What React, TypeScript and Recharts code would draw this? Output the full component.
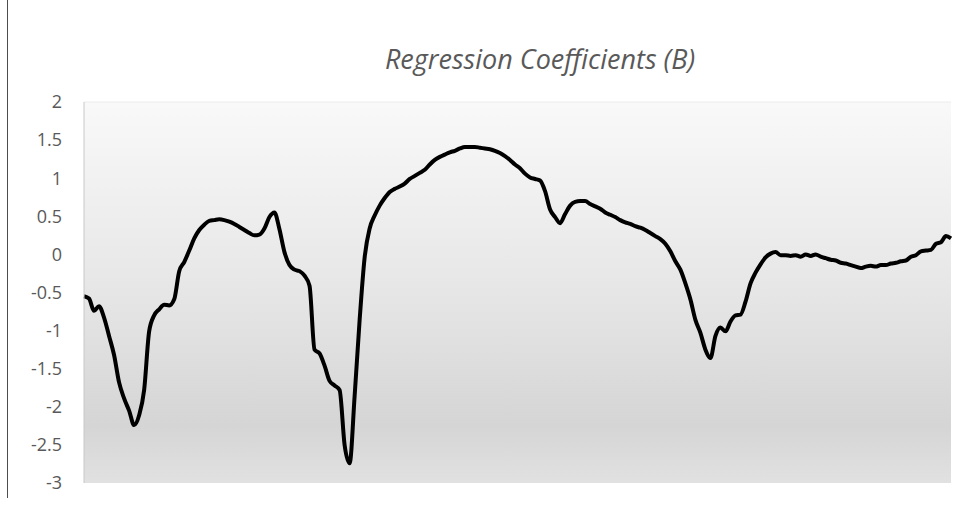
import React from "react";
import { LineChart, Line, XAxis, YAxis, CartesianGrid, ReferenceLine } from "recharts";

const yTicks = [-3, -2.5, -2, -1.5, -1, -0.5, 0, 0.5, 1, 1.5, 2];

const coefficients = [
  -0.55, -0.58, -0.74, -0.68, -0.83, -1.07, -1.32, -1.68, -1.89, -2.05,
  -2.24, -2.11, -1.78, -1.01, -0.8, -0.72, -0.66, -0.67, -0.59, -0.22,
  -0.1, 0.05, 0.21, 0.32, 0.39, 0.44, 0.45, 0.46, 0.45, 0.43,
  0.4, 0.36, 0.32, 0.28, 0.25, 0.26, 0.34, 0.49, 0.55, 0.33,
  0.03, -0.14, -0.2, -0.22, -0.28, -0.41, -1.25, -1.3, -1.46, -1.66,
  -1.72, -1.78, -2.5, -2.74, -1.86, -0.86, -0.04, 0.34, 0.51, 0.64,
  0.74, 0.82, 0.86, 0.89, 0.93, 0.99, 1.03, 1.07, 1.11, 1.18,
  1.24, 1.28, 1.31, 1.34, 1.36, 1.39, 1.41, 1.41, 1.41, 1.4,
  1.39, 1.38, 1.36, 1.33, 1.29, 1.24, 1.18, 1.13, 1.06, 1.01,
  0.99, 0.97, 0.83, 0.59, 0.49, 0.41, 0.53, 0.64, 0.69, 0.7,
  0.7, 0.66, 0.63, 0.6, 0.55, 0.52, 0.49, 0.45, 0.42, 0.4,
  0.37, 0.35, 0.32, 0.28, 0.24, 0.2, 0.14, 0.04, -0.09, -0.2,
  -0.38, -0.59, -0.86, -1.03, -1.25, -1.36, -1.07, -0.96, -1.01, -0.88,
  -0.8, -0.79, -0.62, -0.38, -0.24, -0.13, -0.04, 0.01, 0.03, -0.01,
  -0.01, -0.02, -0.01, -0.03, 0.0, -0.02, 0.0, -0.03, -0.05, -0.07,
  -0.08, -0.11, -0.12, -0.14, -0.16, -0.18, -0.16, -0.15, -0.16, -0.14,
  -0.14, -0.12, -0.11, -0.09, -0.08, -0.03, -0.01, 0.04, 0.05, 0.06,
  0.14, 0.16, 0.24, 0.21,
];

const categories = coefficients.map((_, i) => i + 1);

const data = categories.map((c, i) => ({ idx: c, b: coefficients[i] }));

export default function App() {
  return (
    <div style={{ position: "relative", width: 966, height: 503 }}>
      <div
        style={{
          position: "fixed",
          left: 7,
          top: 0,
          width: 0,
          height: 498,
          borderLeft: "1px solid #4d4d4d",
          zIndex: 10,
        }}
      />
      <LineChart
        width={966}
        height={503}
        data={data}
        margin={{ top: 94, right: 23, bottom: 28, left: 0 }}
      >
        <defs>
          <linearGradient id="plotBg" x1="0" y1="0" x2="0" y2="1">
            <stop offset="0%" stopColor="#f9f9f9" />
            <stop offset="50%" stopColor="#e6e6e6" />
            <stop offset="85%" stopColor="#d5d5d5" />
            <stop offset="100%" stopColor="#e1e1e1" />
          </linearGradient>
        </defs>
        <CartesianGrid
          horizontal={false}
          vertical={false}
          fill="url(#plotBg)"
          fillOpacity={1}
        />
        <XAxis dataKey="idx" hide />
        <YAxis
          type="number"
          domain={[-3, 2]}
          ticks={yTicks}
          interval={0}
          width={76}
          tickSize={0}
          tickMargin={22}
          axisLine={{ stroke: "#c8c8c8" }}
          tickLine={false}
          tick={{ fill: "#595959", fontSize: 18, fontFamily: "'Open Sans', sans-serif" }}
        />
        <ReferenceLine y={2} stroke="#ececec" />
        <Line
          type="monotone"
          dataKey="b"
          stroke="#000000"
          strokeWidth={4}
          dot={false}
          isAnimationActive={false}
        />
      </LineChart>
      <div
        style={{
          position: "absolute",
          left: 362,
          top: 32,
          width: 340,
          textAlign: "center",
          fontFamily: "'Open Sans', sans-serif",
          fontStyle: "italic",
          fontSize: 27,
          color: "#595959",
          whiteSpace: "nowrap",
          zIndex: 2,
        }}
      >
        Regression Coefficients (B)
      </div>
    </div>
  );
}
